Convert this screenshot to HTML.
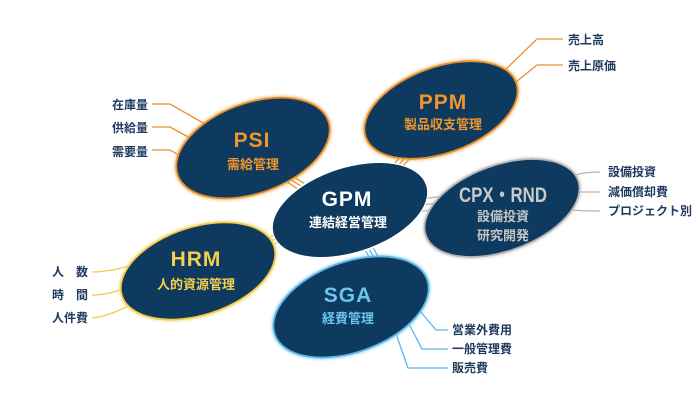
<!DOCTYPE html>
<html>
<head>
<meta charset="utf-8">
<style>
  html,body{margin:0;padding:0;background:#fff;}
  svg{display:block;}
  text{font-family:"Liberation Sans","Noto Sans CJK JP",sans-serif;font-weight:bold;}
  .lbl{font-size:12px;fill:#1e3a5f;}
  .ttl{font-size:21px;letter-spacing:1px;text-anchor:middle;}
  .sub{font-size:13px;text-anchor:middle;}
</style>
</head>
<body>
<svg width="700" height="420" viewBox="0 0 700 420" xmlns="http://www.w3.org/2000/svg">
  <defs>
    <filter id="glow" x="-20%" y="-20%" width="140%" height="140%">
      <feGaussianBlur stdDeviation="1.2"/>
    </filter>
  </defs>

  <!-- connector triple lines between ellipses -->
  <g fill="none" stroke-width="1.3">
    <g stroke="#e8902a" transform="translate(293,181) rotate(33)">
      <line x1="-40" y1="-4" x2="40" y2="-4"/><line x1="-40" y1="0" x2="40" y2="0"/><line x1="-40" y1="4" x2="40" y2="4"/>
    </g>
    <g stroke="#e8902a" transform="translate(403,160) rotate(-48)">
      <line x1="-40" y1="-4" x2="40" y2="-4"/><line x1="-40" y1="0" x2="40" y2="0"/><line x1="-40" y1="4" x2="40" y2="4"/>
    </g>
    <g stroke="#b5b5b5" transform="translate(430,204) rotate(-8)">
      <line x1="-40" y1="-6" x2="40" y2="-6"/><line x1="-40" y1="0" x2="40" y2="0"/><line x1="-40" y1="6" x2="40" y2="6"/>
    </g>
    <g stroke="#f2cd4c" transform="translate(273,240) rotate(-22)">
      <line x1="-40" y1="-4" x2="40" y2="-4"/><line x1="-40" y1="0" x2="40" y2="0"/><line x1="-40" y1="4" x2="40" y2="4"/>
    </g>
    <g stroke="#5ab8e6" transform="translate(372,254) rotate(60)">
      <line x1="-40" y1="-4" x2="40" y2="-4"/><line x1="-40" y1="0" x2="40" y2="0"/><line x1="-40" y1="4" x2="40" y2="4"/>
    </g>
  </g>

  <!-- label leader lines -->
  <g fill="none" stroke-width="1.3">
    <path stroke="#e8902a" d="M152,104 H170 L205,124"/>
    <path stroke="#e8902a" d="M152,127 H170 L190,138"/>
    <path stroke="#e8902a" d="M152,150 H170 L182,157"/>
    <path stroke="#e8902a" d="M505,70 L537,39 H563"/>
    <path stroke="#e8902a" d="M516,82 L537,65 H563"/>
    <path stroke="#b5b5b5" d="M570,176 Q585,172 600,172"/>
    <path stroke="#b5b5b5" d="M575,192 H600"/>
    <path stroke="#b5b5b5" d="M570,210 Q585,211 600,211"/>
    <path stroke="#f2cd4c" d="M92,272 Q110,272 132,265"/>
    <path stroke="#f2cd4c" d="M92,295 Q108,295 126,288"/>
    <path stroke="#f2cd4c" d="M92,318 Q110,316 132,304"/>
    <path stroke="#5ab8e6" d="M420,311 L436,330 H448"/>
    <path stroke="#5ab8e6" d="M408,322 L422,349 H448"/>
    <path stroke="#5ab8e6" d="M395,331 L408,368 H448"/>
  </g>

  <!-- ellipses -->
  <g transform="translate(253,148) rotate(-20)">
    <ellipse rx="80" ry="45" fill="none" stroke="#f0a040" stroke-width="4" opacity="0.6" filter="url(#glow)"/>
    <ellipse rx="80" ry="45" fill="#0d3a5e" stroke="#e8902a" stroke-width="1.8"/>
  </g>
  <g transform="translate(441,110) rotate(-20)">
    <ellipse rx="80" ry="43" fill="none" stroke="#f0a040" stroke-width="4" opacity="0.6" filter="url(#glow)"/>
    <ellipse rx="80" ry="43" fill="#0d3a5e" stroke="#e8902a" stroke-width="1.8"/>
  </g>
  <g transform="translate(502,208) rotate(-20)">
    <ellipse rx="81" ry="43" fill="none" stroke="#c8c8c8" stroke-width="4" opacity="0.6" filter="url(#glow)"/>
    <ellipse rx="81" ry="43" fill="#0d3a5e" stroke="#b5b5b5" stroke-width="1.8"/>
  </g>
  <g transform="translate(198,271) rotate(-18)">
    <ellipse rx="80" ry="44" fill="none" stroke="#f5d870" stroke-width="4" opacity="0.6" filter="url(#glow)"/>
    <ellipse rx="80" ry="44" fill="#0d3a5e" stroke="#f2cd4c" stroke-width="1.8"/>
  </g>
  <g transform="translate(351,307) rotate(-20)">
    <ellipse rx="81" ry="45" fill="none" stroke="#7cc8ee" stroke-width="4" opacity="0.6" filter="url(#glow)"/>
    <ellipse rx="81" ry="45" fill="#0d3a5e" stroke="#5ab8e6" stroke-width="1.8"/>
  </g>
  <g transform="translate(350,210) rotate(-18)">
    <ellipse rx="81" ry="44" fill="#ffffff"/>
    <ellipse rx="80" ry="42" fill="#0d3a5e"/>
  </g>

  <!-- ellipse texts -->
  <text class="ttl" x="252" y="147" fill="#f0952a">PSI</text>
  <text class="sub" x="253" y="169" fill="#f0952a">需給管理</text>

  <text class="ttl" x="443" y="109" fill="#f0952a">PPM</text>
  <text class="sub" x="443" y="129" fill="#f0952a">製品収支管理</text>

  <text class="ttl" x="347" y="206" fill="#ffffff">GPM</text>
  <text class="sub" x="348" y="227" fill="#ffffff">連結経営管理</text>

  <text x="459" y="202" font-size="21" fill="#c9c9c9" textLength="88" lengthAdjust="spacingAndGlyphs">CPX・RND</text>
  <text class="sub" x="503" y="221" fill="#c4c4c4">設備投資</text>
  <text class="sub" x="503" y="240" fill="#c4c4c4">研究開発</text>

  <text class="ttl" x="196" y="266" fill="#f5cf4f">HRM</text>
  <text class="sub" x="196" y="289" fill="#f5cf4f">人的資源管理</text>

  <text class="ttl" x="348" y="302" fill="#6cc4ee">SGA</text>
  <text class="sub" x="348" y="323" fill="#6cc4ee">経費管理</text>

  <!-- labels -->
  <text class="lbl" x="148" y="109" text-anchor="end">在庫量</text>
  <text class="lbl" x="148" y="132" text-anchor="end">供給量</text>
  <text class="lbl" x="148" y="156" text-anchor="end">需要量</text>

  <text class="lbl" x="568" y="44">売上高</text>
  <text class="lbl" x="568" y="70">売上原価</text>

  <text class="lbl" x="608" y="176">設備投資</text>
  <text class="lbl" x="608" y="196">減価償却費</text>
  <text class="lbl" x="608" y="215">プロジェクト別</text>

  <text class="lbl" x="88" y="276" text-anchor="end">人　数</text>
  <text class="lbl" x="88" y="299" text-anchor="end">時　間</text>
  <text class="lbl" x="88" y="322" text-anchor="end">人件費</text>

  <text class="lbl" x="452" y="334">営業外費用</text>
  <text class="lbl" x="452" y="353">一般管理費</text>
  <text class="lbl" x="452" y="372">販売費</text>
</svg>
</body>
</html>
